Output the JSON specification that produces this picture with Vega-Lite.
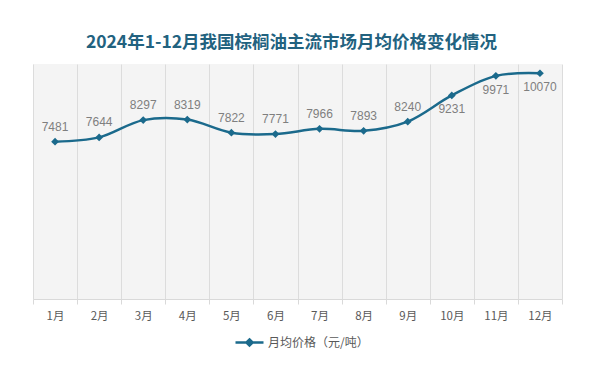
{
  "$schema": "https://vega.github.io/schema/vega-lite/v6.json",
  "width": 529,
  "height": 235,
  "autosize": {"type": "none"},
  "padding": {"left": 33, "top": 64, "right": 32, "bottom": 67},
  "background": "#ffffff",
  "title": {
    "text": "2024年1-12月我国棕榈油主流市场月均价格变化情况",
    "anchor": "middle",
    "dx": -6,
    "offset": 13,
    "fontSize": 17.5,
    "fontWeight": "bold",
    "font": "Noto Sans CJK SC",
    "color": "#22627f"
  },
  "config": {
    "view": {"stroke": null, "fill": "#f4f4f4"},
    "font": "Noto Sans CJK SC"
  },
  "data": {
    "values": [
      {"month": "1月", "price": 7481, "series": "月均价格（元/吨）"},
      {"month": "2月", "price": 7644, "series": "月均价格（元/吨）"},
      {"month": "3月", "price": 8297, "series": "月均价格（元/吨）"},
      {"month": "4月", "price": 8319, "series": "月均价格（元/吨）"},
      {"month": "5月", "price": 7822, "series": "月均价格（元/吨）"},
      {"month": "6月", "price": 7771, "series": "月均价格（元/吨）"},
      {"month": "7月", "price": 7966, "series": "月均价格（元/吨）"},
      {"month": "8月", "price": 7893, "series": "月均价格（元/吨）"},
      {"month": "9月", "price": 8240, "series": "月均价格（元/吨）"},
      {"month": "10月", "price": 9231, "series": "月均价格（元/吨）"},
      {"month": "11月", "price": 9971, "series": "月均价格（元/吨）"},
      {"month": "12月", "price": 10070, "series": "月均价格（元/吨）"}
    ]
  },
  "encoding": {
    "x": {
      "field": "month",
      "type": "ordinal",
      "sort": null,
      "scale": {"paddingInner": 0, "paddingOuter": 0},
      "axis": {
        "title": null,
        "labelAngle": 0,
        "tickBand": "extent",
        "grid": true,
        "gridColor": "#dcdcdc",
        "gridWidth": 1,
        "domainColor": "#d9d9d9",
        "domainWidth": 1,
        "tickColor": "#d9d9d9",
        "tickSize": 5,
        "labelPadding": 6,
        "labelFontSize": 11.5,
        "labelColor": "#595959",
        "labelFont": "Noto Sans CJK SC"
      }
    },
    "y": {
      "field": "price",
      "type": "quantitative",
      "scale": {"domain": [1530, 10420], "zero": false, "nice": false},
      "axis": null
    }
  },
  "layer": [
    {
      "mark": {"type": "line", "interpolate": "catmull-rom", "strokeWidth": 2.5},
      "encoding": {
        "color": {
          "field": "series",
          "type": "nominal",
          "scale": {"range": ["#1b6a8c"]},
          "legend": {
            "title": null,
            "orient": "none",
            "legendX": 201,
            "legendY": 263,
            "symbolType": "M-1,0L1,0M0,-0.22L0.22,0L0,0.22L-0.22,0Z",
            "symbolSize": 784,
            "symbolStrokeWidth": 2.5,
            "labelFontSize": 12,
            "labelColor": "#595959",
            "labelFont": "Noto Sans CJK SC",
            "labelOffset": 3,
            "encode": {
              "symbols": {
                "update": {
                  "fill": {"value": "#1b6a8c"},
                  "stroke": {"value": "#1b6a8c"},
                  "strokeWidth": {"value": 2.5}
                }
              }
            }
          }
        }
      }
    },
    {
      "mark": {"type": "point", "shape": "diamond", "filled": true, "size": 60, "opacity": 1, "color": "#1b6a8c"}
    },
    {
      "transform": [{"filter": "datum.price < 9000"}],
      "mark": {"type": "text", "dy": -15, "fontSize": 12, "color": "#7f7f7f", "font": "Liberation Sans"},
      "encoding": {"text": {"field": "price", "type": "quantitative", "format": "d"}}
    },
    {
      "transform": [{"filter": "datum.price >= 9000"}],
      "mark": {"type": "text", "dy": 14, "fontSize": 12, "color": "#7f7f7f", "font": "Liberation Sans"},
      "encoding": {"text": {"field": "price", "type": "quantitative", "format": "d"}}
    }
  ]
}
